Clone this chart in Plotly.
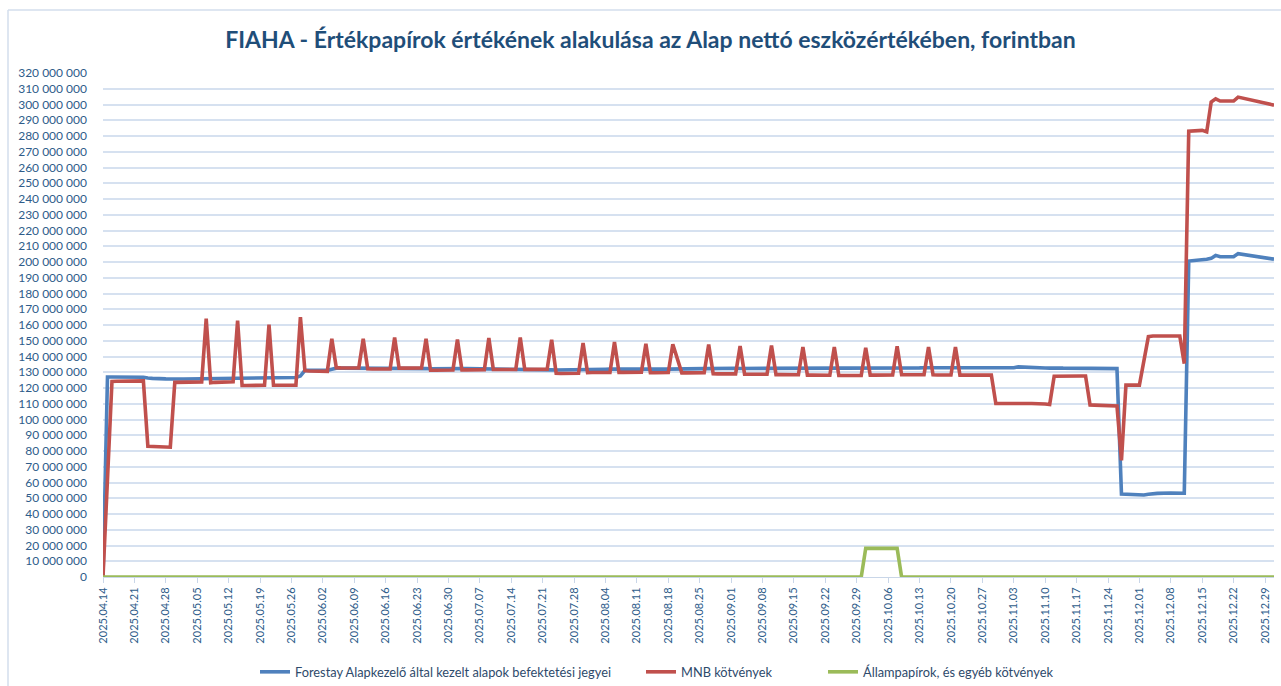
import pandas as pd
import plotly.graph_objects as go

# ---------------- data (values in million HUF) ----------------
week_mondays = [
    "2025-04-14", "2025-04-21", "2025-04-28", "2025-05-05", "2025-05-12", "2025-05-19",
    "2025-05-26", "2025-06-02", "2025-06-09", "2025-06-16", "2025-06-23", "2025-06-30",
    "2025-07-07", "2025-07-14", "2025-07-21", "2025-07-28", "2025-08-04", "2025-08-11",
    "2025-08-18", "2025-08-25", "2025-09-01", "2025-09-08", "2025-09-15", "2025-09-22",
    "2025-09-29", "2025-10-06", "2025-10-13", "2025-10-20", "2025-10-27", "2025-11-03",
    "2025-11-10", "2025-11-17", "2025-11-24", "2025-12-01", "2025-12-08", "2025-12-15",
    "2025-12-22", "2025-12-29",
]

# Mon..Fri values for each week (None = no valuation that day)
forestay = [
    [0, 127.0, 127.0, 127.0, 126.9],
    [126.9, 127.0, 126.8, 126.4, 126.1],
    [125.8, 125.6, 125.6, 125.7, 125.7],
    [125.8, 125.9, 126.0, 126.1, 126.1],
    [126.2, 126.3, 126.4, 126.4, 126.5],
    [126.5, 126.5, 126.6, 126.6, 126.6],
    [126.6, 126.7, 127.6, 131.2, 131.2],
    [131.0, 131.2, 131.9, 132.6, 132.6],
    [132.6, 132.7, 132.6, 132.5, 132.6],
    [132.6, 132.7, 132.8, 132.7, 132.6],
    [132.5, 132.4, 132.3, 132.2, 132.3],
    [132.3, 132.2, 132.3, 132.4, 132.3],
    [132.2, 132.3, 132.4, 132.3, 132.2],
    [132.3, 132.3, 132.2, 132.1, 132.0],
    [131.9, 131.7, 131.5, 131.4, 131.4],
    [131.5, 131.6, 131.7, 131.7, 131.8],
    [131.9, 132.0, 132.1, 132.0, 132.0],
    [132.1, 132.0, 131.9, 131.9, 132.0],
    [132.0, 132.1, None, 132.0, 132.1],
    [132.2, 132.3, 132.3, 132.4, 132.4],
    [132.5, 132.5, 132.4, 132.4, 132.5],
    [132.4, 132.3, 132.4, 132.5, 132.5],
    [132.5, 132.5, 132.6, 132.5, 132.5],
    [132.5, 132.6, 132.5, 132.5, 132.6],
    [132.6, 132.5, 132.6, 132.6, 132.7],
    [132.6, 132.7, 132.6, 132.7, 132.8],
    [132.8, 132.9, 132.8, 132.8, 132.9],
    [132.9, 132.9, 133.0, None, 133.0],
    [133.0, 133.0, 132.9, 132.9, 132.8],
    [132.9, 133.4, 133.2, 133.0, 132.8],
    [132.7, 132.6, 132.8, 132.7, 132.6],
    [132.6, 132.5, 132.5, 132.6, 132.6],
    [132.5, 132.5, 132.3, 52.7, 52.5],
    [52.2, 52.1, 52.5, 52.9, 53.1],
    [53.3, 53.4, 53.3, 53.2, 200.6],
    [201.0, 201.7, 202.3, 204.2, 203.3],
    [203.3, 205.3, None, None, None],
    [202.8, 202.3, 201.8, None, None],
]

mnb = [
    [0, 62.0, 124.2, 124.3, 124.3],
    [124.4, 124.5, 124.5, 83.0, 82.8],
    [82.6, 82.4, 123.6, 123.7, 123.8],
    [123.8, 123.9, 164.0, 123.3, 123.6],
    [123.8, 124.0, 162.8, 121.6, 121.6],
    [121.6, 121.7, 160.2, 121.7, 121.7],
    [121.7, 121.8, 165.0, 131.0, 130.8],
    [130.6, 130.6, 151.2, 132.9, 132.8],
    [132.7, 132.7, 151.2, 132.2, 132.1],
    [132.0, 132.1, 152.0, 132.6, 132.6],
    [132.6, 132.7, 151.3, 131.3, 131.3],
    [131.3, 131.4, 150.8, 131.5, 131.5],
    [131.5, 131.6, 151.8, 131.7, 131.7],
    [131.7, 131.8, 152.0, 131.8, 131.8],
    [131.8, 131.9, 150.6, 129.3, 129.2],
    [129.2, 129.4, 148.6, 129.7, 129.8],
    [129.8, 129.9, 149.2, 129.9, 129.9],
    [129.9, 130.0, 148.0, 129.7, 129.7],
    [129.8, 147.8, None, 129.6, 129.6],
    [129.6, 129.7, 147.6, 129.1, 129.0],
    [129.0, 129.0, 146.6, 128.8, 128.7],
    [128.7, 128.7, 147.0, 128.5, 128.5],
    [128.4, 128.4, 146.0, 128.2, 128.2],
    [128.1, 128.1, 146.0, 127.9, 127.9],
    [127.9, 127.9, 145.6, 128.2, 128.2],
    [128.3, 128.3, 146.5, 128.4, 128.4],
    [128.4, 128.5, 146.0, 128.4, 128.3],
    [128.3, 146.0, 128.2, None, 128.2],
    [128.2, 128.2, 128.2, 110.2, 110.2],
    [110.3, 110.4, 110.5, 110.4, 110.2],
    [109.8, 109.5, 127.5, 127.6, 127.6],
    [127.6, 127.6, 127.6, 109.2, 109.1],
    [109.0, 108.8, 108.6, 74.0, 121.8],
    [121.8, 137.0, 152.6, 153.0, 153.1],
    [153.2, 153.2, 153.0, 135.5, 283.0],
    [283.6, 282.6, 301.6, 303.6, 302.2],
    [302.2, 304.7, None, None, None],
    [301.2, 300.5, 299.6, None, None],
]

allampapir = [[0, 0, 0, 0, 0]] * 24 + [
    [0, 0, 18.2, 18.2, 18.2],   # week of 09.29
    [18.2, 18.2, 18.2, 0, 0],   # week of 10.06
] + [[0, 0, 0, 0, 0]] * 12

series_names = [
    "Forestay Alapkezelő által kezelt alapok befektetési jegyei",
    "MNB kötvények",
    "Állampapírok, és egyéb kötvények",
]
series_colors = ["#4F81BD", "#C0504D", "#9BBB59"]
legend_ids = ["legend", "legend2", "legend3"]
legend_left_px = [255, 641, 823]

title_text = "FIAHA - Értékpapírok értékének alakulása az Alap nettó eszközértékében, forintban"


def flatten(weeks):
    xs, ys = [], []
    for monday, vals in zip(week_mondays, weeks):
        m = pd.Timestamp(monday)
        for i, v in enumerate(vals):
            d = m + pd.Timedelta(days=i)
            if d > pd.Timestamp("2025-12-31"):
                continue
            xs.append(d)
            ys.append(None if v is None else v * 1e6)
    return xs, ys


fig = go.Figure()
for name, data, col, lg in zip(series_names, [forestay, mnb, allampapir], series_colors, legend_ids):
    xs, ys = flatten(data)
    fig.add_trace(go.Scatter(
        x=xs, y=ys, name=name, mode="lines", connectgaps=True,
        line=dict(color=col, width=3.6),
        legend=lg,
        hovertemplate="%{x|%Y.%m.%d}: %{y:,.0f}<extra></extra>",
    ))

tick_col = "#2E5C8A"
grid_col = "#D6E1F0"
font_fam = "Lato, 'Open Sans', sans-serif"

legend_common = dict(
    orientation="h", xref="container", xanchor="left",
    y=1 - 672 / 686, yref="container", yanchor="middle",
    font=dict(family=font_fam, size=12.8, color="#2E4A6B"),
    itemwidth=30, bgcolor="rgba(0,0,0,0)",
)

fig.update_layout(
    width=1281, height=686,
    paper_bgcolor="white", plot_bgcolor="white",
    separators=", ",
    margin=dict(l=103, r=7, t=73, b=109, autoexpand=False),
    font=dict(family=font_fam, color=tick_col, size=12),
    title=dict(
        text="<b>" + title_text + "</b>",
        x=650.5 / 1281, xref="container", xanchor="center",
        y=1 - 40 / 686, yref="container", yanchor="middle",
        font=dict(family=font_fam, size=23, color="#1F4E79"),
    ),
    showlegend=True,
    legend=dict(legend_common, x=legend_left_px[0] / 1281),
    legend2=dict(legend_common, x=legend_left_px[1] / 1281),
    legend3=dict(legend_common, x=legend_left_px[2] / 1281),
    xaxis=dict(
        type="date",
        range=["2025-04-14", "2025-12-31"],
        tick0="2025-04-14", dtick=7 * 86400000,
        tickformat="%Y.%m.%d", tickangle=-90,
        ticks="outside", ticklen=5, tickcolor="#C9D6E8",
        showgrid=False, zeroline=False, automargin=False,
        showline=True, linecolor="#C9D6E8", linewidth=1,
        tickfont=dict(size=11, color=tick_col),
    ),
    yaxis=dict(
        range=[0, 320e6], dtick=10e6, tick0=0,
        tickformat=",d",
        showgrid=True, gridcolor=grid_col, gridwidth=1.5,
        zeroline=False, showline=False, automargin=False,
        ticklabelstandoff=15,
        tickfont=dict(size=12, color=tick_col),
    ),
    shapes=[
        dict(type="line", xref="paper", yref="paper",
             x0=(8 - 103) / 1171, x1=(1281 - 103) / 1171,
             y0=(577 - 10) / 504, y1=(577 - 10) / 504,
             line=dict(color="#D3DEEC", width=1.5)),
        dict(type="line", xref="paper", yref="paper",
             x0=(8 - 103) / 1171, x1=(8 - 103) / 1171,
             y0=(577 - 10) / 504, y1=(577 - 690) / 504,
             line=dict(color="#D3DEEC", width=1.5)),
    ],
)

fig.write_html(
    "out.html",
    config={"displayModeBar": False},
    post_script="document.body.style.margin='0';document.body.style.overflow='hidden';",
)
